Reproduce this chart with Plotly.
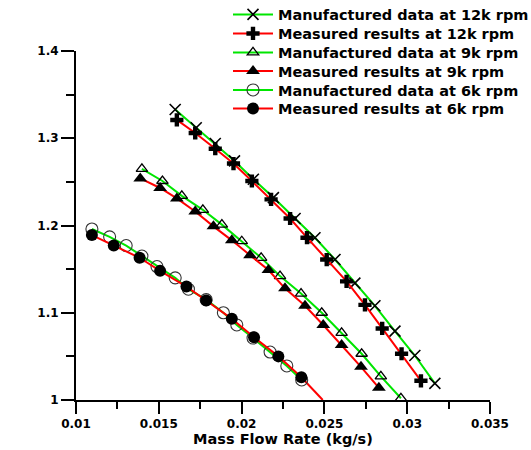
import plotly.graph_objects as go

# ---- data ----
man12_x = [0.01599, 0.01726, 0.01841, 0.01957, 0.02071, 0.02192, 0.02323,
           0.02443, 0.02564, 0.02684, 0.02805, 0.02926, 0.03046, 0.03167]
man12_y = [1.333, 1.312, 1.294, 1.274, 1.253, 1.232, 1.208,
           1.186, 1.161, 1.134, 1.108, 1.079, 1.051, 1.019]

mea12_x = [0.01609, 0.01720, 0.01841, 0.01951, 0.02062, 0.02178, 0.02293,
           0.02395, 0.02514, 0.02634, 0.02745, 0.02849, 0.02966, 0.03083]
mea12_y = [1.321, 1.306, 1.288, 1.271, 1.251, 1.230, 1.208,
           1.186, 1.161, 1.136, 1.109, 1.082, 1.053, 1.022]

man9_x = [0.01398, 0.01522, 0.01639, 0.01766, 0.01881, 0.02001, 0.02118,
          0.02232, 0.02359, 0.02484, 0.02604, 0.02725, 0.02841, 0.02962]
man9_y = [1.265, 1.251, 1.234, 1.218, 1.201, 1.182, 1.163,
          1.142, 1.122, 1.100, 1.077, 1.053, 1.027, 1.002]

mea9_x = [0.01388, 0.01508, 0.01609, 0.01720, 0.01830, 0.01941, 0.02051,
          0.02162, 0.02262, 0.02383, 0.02493, 0.02604, 0.02721, 0.02829]
mea9_y = [1.254, 1.243, 1.231, 1.216, 1.199, 1.183, 1.166,
          1.149, 1.128, 1.108, 1.086, 1.063, 1.038, 1.014]

man6_x = [0.01096, 0.01203, 0.01303, 0.01398, 0.01489, 0.01599, 0.01679,
          0.01786, 0.01890, 0.01971, 0.02069, 0.02172, 0.02273, 0.02363]
man6_y = [1.196, 1.187, 1.177, 1.165, 1.153, 1.140, 1.127,
          1.115, 1.100, 1.086, 1.071, 1.055, 1.039, 1.023]

mea6_x = [0.01096, 0.01228, 0.01384, 0.01508, 0.01667, 0.01786, 0.01941,
          0.02075, 0.02222, 0.02361]
mea6_y = [1.189, 1.177, 1.163, 1.148, 1.130, 1.114, 1.093,
          1.072, 1.050, 1.026]
# red 6k curve continues past the last measured point to this end
mea6_tail_x = [0.02361, 0.0249]
mea6_tail_y = [1.026, 1.0]

names = ["Manufactured data at 12k rpm", "Measured results at 12k rpm",
         "Manufactured data at 9k rpm", "Measured results at 9k rpm",
         "Manufactured data at 6k rpm", "Measured results at 6k rpm"]

GREEN = "#00e600"
RED = "#ff0000"
BOLD = "DejaVu Sans, Verdana, sans-serif"
REG = "Arial, Liberation Sans, sans-serif"
W, H = 531, 450

fig = go.Figure()

series = [
    (man12_x, man12_y, GREEN, dict(symbol="x-thin", size=11, line=dict(width=1.6, color="black"), color="black")),
    (mea12_x, mea12_y, RED, dict(symbol="cross", size=11, color="black")),
    (man9_x, man9_y, GREEN, dict(symbol="triangle-up-open", size=10, line=dict(width=1.3, color="black"), color="black")),
    (mea9_x, mea9_y, RED, dict(symbol="triangle-up", size=12, color="black")),
    (man6_x, man6_y, GREEN, dict(symbol="circle-open", size=12, line=dict(width=1.1, color="#333"), color="#333")),
    (mea6_x, mea6_y, RED, dict(symbol="circle", size=12, color="black")),
]

fig.add_trace(go.Scatter(x=mea6_tail_x, y=mea6_tail_y, mode="lines",
                         line=dict(color=RED, width=2), showlegend=False,
                         hoverinfo="skip"))

legend_rows = [14.5, 33.5, 52.5, 71, 90, 108.5]  # pixel centre of each legend row
layout_legends = {}
for i, ((xs, ys, col, mk), nm) in enumerate(zip(series, names)):
    key = "legend" if i == 0 else f"legend{i+1}"
    fig.add_trace(go.Scatter(x=xs, y=ys, name=nm, mode="lines+markers",
                             line=dict(color=col, width=2), marker=mk,
                             legend=key))
    layout_legends[key] = dict(
        xref="container", yref="container", x=228 / W, y=1 - legend_rows[i] / H,
        xanchor="left", yanchor="middle",
        font=dict(family=BOLD, size=14.5, color="black", weight="bold"),
        bgcolor="rgba(0,0,0,0)", itemwidth=40)

fig.update_layout(
    width=W, height=H,
    margin=dict(l=76, r=41, t=51, b=50, autoexpand=False),
    paper_bgcolor="white", plot_bgcolor="white",
    font=dict(family=BOLD, color="black", size=12),
    showlegend=True,
    **layout_legends,
)

fig.update_xaxes(
    automargin=False,
    range=[0.01, 0.035], tickvals=[0.01, 0.015, 0.02, 0.025, 0.03, 0.035],
    ticktext=["0.01", "0.015", "0.02", "0.025", "0.03", "0.035"],
    showline=True, linecolor="black", linewidth=2, mirror=False,
    ticks="outside", ticklen=12, tickwidth=2, tickcolor="black",
    minor=dict(ticks="outside", ticklen=7, tickwidth=2, tickcolor="black", dtick=0.0025, showgrid=False),
    showgrid=False, zeroline=False,
    tickfont=dict(family=BOLD, size=12, weight="bold"),
    title=dict(text="Mass Flow Rate (kg/s)", font=dict(family=BOLD, size=14.5, weight="bold"), standoff=2),
)
fig.update_yaxes(
    automargin=False,
    range=[1.0, 1.4], tickvals=[1.0, 1.1, 1.2, 1.3, 1.4],
    ticktext=["1", "1.1", "1.2", "1.3", "1.4"],
    showline=True, linecolor="black", linewidth=2, mirror=False,
    ticks="outside", ticklen=13, tickwidth=2, tickcolor="black",
    minor=dict(ticks="outside", ticklen=8, tickwidth=2, tickcolor="black", dtick=0.05, showgrid=False),
    showgrid=False, zeroline=False,
    tickfont=dict(family=BOLD, size=12, weight="bold"),
    title=dict(text="Static Pressure Ratio", font=dict(family=REG, size=12.5), standoff=10),
)

fig.write_html("out.html", config={"displayModeBar": False},
               post_script="document.body.style.margin='0';")
